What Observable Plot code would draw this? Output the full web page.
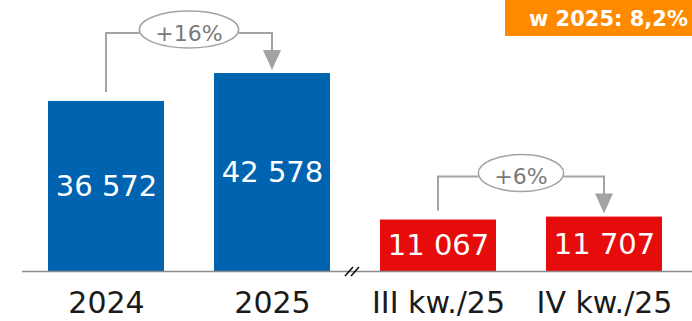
<!DOCTYPE html>
<html>
<head>
<meta charset="utf-8">
<script src="https://cdn.jsdelivr.net/npm/d3@7"></script>
<script src="https://cdn.jsdelivr.net/npm/@observablehq/plot@0.6"></script>
<style>
  html, body { margin: 0; padding: 0; background: #fff; }
  #chart { width: 692px; height: 321px; overflow: hidden; }
</style>
</head>
<body>
<div id="chart"></div>
<script>
// ---- data ----
const categories = ["2024", "2025", "III kw./25", "IV kw./25"];
const values = [36572, 42578, 11067, 11707];
const valueLabels = ["36 572", "42 578", "11 067", "11 707"];
const groups = ["rok", "rok", "kwartał", "kwartał"];
const changeFrom = ["2024", "III kw./25"];
const changeTo = ["2025", "IV kw./25"];
const changeLabels = ["+16%", "+6%"];
const calloutText = "w 2025: 8,2%";

const data = categories.map((c, i) => ({cat: c, value: values[i], label: valueLabels[i], group: groups[i]}));

const BLUE = "#0063AF", RED = "#E60C0C", GRAY = "#a3a3a3", ORANGE = "#FF8A00";

const plot = Plot.plot({
  width: 692,
  height: 321,
  marginLeft: 22,
  marginRight: 0,
  marginTop: 0,
  marginBottom: 50,
  style: {fontFamily: "DejaVu Sans", fontSize: "30px", color: "#1a1a1a", background: "white", overflow: "visible"},
  x: {domain: categories, paddingInner: 0.3, paddingOuter: 0.1644, align: 0.457, tickSize: 0, tickPadding: 20, label: null},
  y: {domain: [0, 58280], axis: null},
  color: {domain: ["rok", "kwartał"], range: [BLUE, RED]},
  marks: [
    Plot.barY(data, {x: "cat", y: "value", fill: "group"}),
    Plot.ruleY([0], {stroke: "#8c8c8c", strokeWidth: 1.5}),
    Plot.text(data, {x: "cat", y: d => d.value / 2, text: "label", fill: "white", fontSize: 29})
  ]
});
document.getElementById("chart").appendChild(plot);

// ---- annotations drawn with the plot's own scales ----
const xs = plot.scale("x"), ys = plot.scale("y");
const bw = xs.bandwidth;
const cx = c => xs.apply(c) + bw / 2;
const valOf = c => values[categories.indexOf(c)];
const svg = d3.select(plot);
const g = svg.append("g");

changeFrom.forEach((a, i) => {
  const b = changeTo[i];
  const ax = cx(a), bx = cx(b);
  const yA = ys.apply(valOf(a)), yB = ys.apply(valOf(b));
  const level = Math.min(yA, yB) - 40;
  const tip = yB - 3;
  const mid = (ax + bx) / 2;
  const t = g.append("text")
    .attr("x", mid).attr("y", level).attr("dy", "0.36em")
    .attr("text-anchor", "middle")
    .attr("font-family", "DejaVu Sans").attr("font-size", 22)
    .attr("fill", "#7a7a7a")
    .text(changeLabels[i]);
  const tw = t.node().getComputedTextLength();
  const rx = tw / 2 + 16;
  g.insert("path", "text")
    .attr("d", `M${ax},${yA - 9}V${level}H${mid - rx}M${mid + rx},${level}H${bx}V${tip - 19}`)
    .attr("fill", "none").attr("stroke", GRAY).attr("stroke-width", 2);
  g.insert("path", "text")
    .attr("d", `M${bx - 9},${tip - 20}L${bx + 9},${tip - 20}L${bx},${tip}Z`)
    .attr("fill", GRAY);
  g.insert("ellipse", "text")
    .attr("cx", mid).attr("cy", level - 3.5).attr("rx", rx).attr("ry", 18.5)
    .attr("fill", "white").attr("stroke", GRAY).attr("stroke-width", 1.5);
});

// axis break mark
{
  const bx = (xs.apply("2025") + bw + xs.apply("III kw./25")) / 2 - 3;
  const by = ys.apply(0);
  [-3, 3].forEach(d => {
    g.append("line")
      .attr("x1", bx + d - 4).attr("y1", by + 5)
      .attr("x2", bx + d + 4).attr("y2", by - 4)
      .attr("stroke", "#111").attr("stroke-width", 1.6);
  });
}

// orange callout box (top right)
{
  const box = svg.append("g");
  box.append("rect").attr("x", 505).attr("y", 0).attr("width", 187).attr("height", 36).attr("fill", ORANGE);
  box.append("text").attr("x", 688).attr("y", 26).attr("text-anchor", "end")
    .attr("font-family", "DejaVu Sans").attr("font-weight", "bold").attr("font-size", 21)
    .attr("fill", "white").text(calloutText);
}
</script>
</body>
</html>
